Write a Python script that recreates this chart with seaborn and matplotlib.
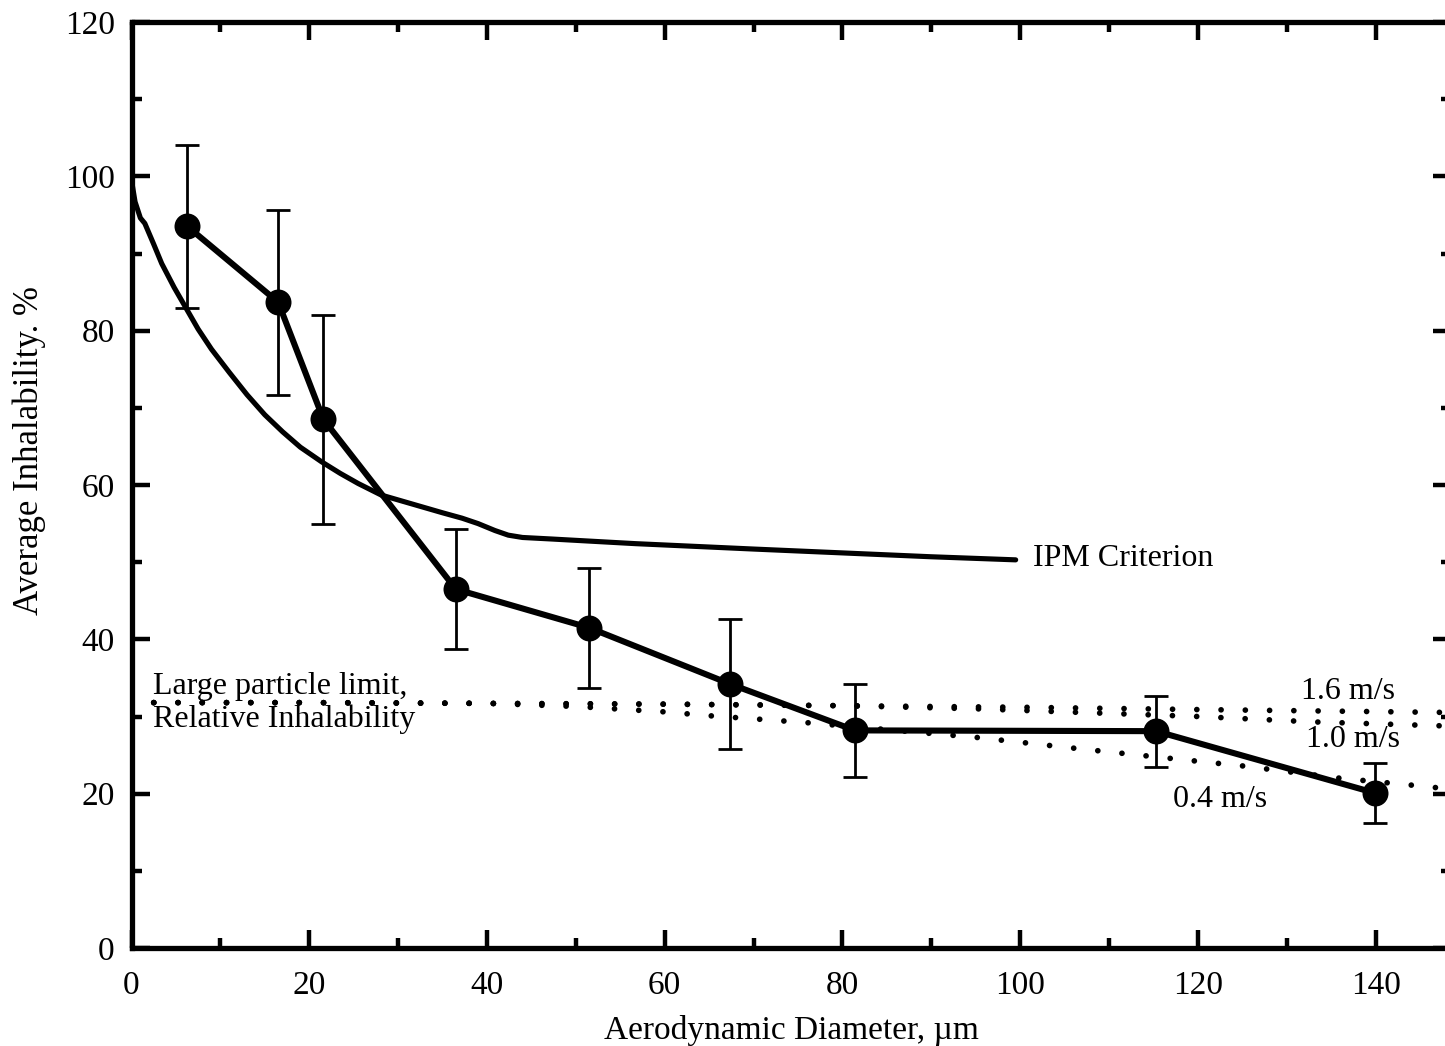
import matplotlib
matplotlib.use("Agg")
import matplotlib.pyplot as plt
import pandas as pd
import seaborn as sns
from matplotlib.ticker import MultipleLocator

# Measured average inhalability (mean +/- error) vs aerodynamic diameter
diameter_um = [6.3, 16.5, 21.6, 36.5, 51.5, 67.4, 81.4, 115.3, 139.9]
inhalability_pct = [93.5, 83.7, 68.5, 46.5, 41.5, 34.2, 28.2, 28.1, 20.1]
inhalability_err = [10.5, 12.0, 13.5, 7.8, 7.8, 8.4, 6.0, 4.6, 3.9]

# IPM criterion curve
ipm_d = [0.0, 0.4, 1.0, 1.5, 2.5, 3.4, 4.8, 6.2, 7.5, 9.0, 11.0, 13.0, 15.0,
         17.0, 19.0, 21.4, 23.5, 25.5, 28.1, 32.3, 35.0, 37.2, 39.0, 40.9,
         42.4, 44.0, 47.3, 56.7, 70.0, 80.0, 90.0, 99.5]
ipm_e = [99.5, 96.7, 94.6, 93.9, 91.2, 88.7, 85.6, 82.8, 80.2, 77.6, 74.6,
         71.7, 69.1, 66.9, 64.9, 63.0, 61.5, 60.2, 58.7, 57.3, 56.4, 55.7,
         55.0, 54.1, 53.5, 53.2, 53.0, 52.4, 51.7, 51.2, 50.7, 50.3]

# Large particle limits of relative inhalability at three wind speeds
lim16_d = [2.5, 20, 40, 60, 80, 100, 120, 150]
lim16_e = [31.8, 31.8, 31.7, 31.6, 31.4, 31.2, 30.9, 30.5]
lim10_d = [2.5, 20, 40, 60, 80, 95, 110, 120, 133, 150]
lim10_e = [31.8, 31.8, 31.7, 31.6, 31.4, 31.0, 30.4, 30.0, 29.3, 28.7]
lim04_d = [2.5, 20, 40, 50, 60, 65, 70, 76, 95, 106, 115, 125, 136, 145, 150]
lim04_e = [31.8, 31.8, 31.7, 31.3, 30.6, 30.1, 29.7, 29.2, 27.3, 25.9, 24.8,
           23.6, 22.0, 21.0, 20.4]

sns.set_style("ticks")
plt.rcParams["font.family"] = ["Liberation Serif", "DejaVu Serif"]

fig = plt.figure(figsize=(14.45, 10.46), dpi=100)
ax = fig.add_axes([131.5 / 1445, 98 / 1046, 1319.6 / 1445, 926 / 1046])

# dotted limit lines
for d, e in [(lim16_d, lim16_e), (lim10_d, lim10_e), (lim04_d, lim04_e)]:
    df = pd.DataFrame({"d": d, "e": e})
    sns.lineplot(data=df, x="d", y="e", ax=ax, color="black", lw=4.1,
                 estimator=None, sort=False, zorder=2)
    ln = ax.lines[-1]
    ln.set_linestyle((0, (0.01, 4.25)))
    ln.set_dash_capstyle("round")

# IPM criterion
ipm_df = pd.DataFrame({"d": ipm_d, "e": ipm_e})
sns.lineplot(data=ipm_df, x="d", y="e", ax=ax, color="black", lw=3.7,
             estimator=None, sort=False, zorder=3)
ax.lines[-1].set_solid_joinstyle("round")

# measured data: error bars, connecting line and markers
meas = pd.DataFrame({"d": diameter_um, "e": inhalability_pct, "err": inhalability_err})
ax.errorbar(meas["d"], meas["e"], yerr=meas["err"], fmt="none", ecolor="black",
            elinewidth=2.0, capsize=8.5, capthick=2.0, zorder=4)
sns.lineplot(data=meas, x="d", y="e", ax=ax, color="black", lw=4.4,
             estimator=None, sort=False, zorder=5)
sns.scatterplot(data=meas, x="d", y="e", ax=ax, color="black", s=350,
                edgecolor="black", linewidth=0, zorder=6)

# annotations
txt = dict(color="black", fontsize=23)
ax.text(101.5, 50.5, "IPM Criterion", ha="left", va="center", **txt)
ax.text(2.4, 31.7, "Large particle limit,\nRelative Inhalability", ha="left",
        va="center", linespacing=1.15, **txt)
ax.text(131.6, 33.2, "1.6 m/s", ha="left", va="center", **txt)
ax.text(132.2, 27.0, "1.0 m/s", ha="left", va="center", **txt)
ax.text(117.2, 19.2, "0.4 m/s", ha="left", va="center", **txt)

# axes
ax.set_xlim(0, 148.5)
ax.set_ylim(0, 120)
ax.xaxis.set_major_locator(MultipleLocator(20))
ax.xaxis.set_minor_locator(MultipleLocator(10))
ax.yaxis.set_major_locator(MultipleLocator(20))
ax.yaxis.set_minor_locator(MultipleLocator(10))
ax.tick_params(which="both", direction="in", top=True, right=True,
               width=3.2, colors="black", labelsize=24)
ax.tick_params(which="major", length=13)
ax.tick_params(which="minor", length=7)
ax.tick_params(axis="x", which="major", pad=16)
ax.tick_params(axis="y", which="major", pad=12)
for s in ax.spines.values():
    s.set_linewidth(3.8)
    s.set_color("black")

ax.set_xlabel("Aerodynamic Diameter, µm", fontsize=24, color="black")
ax.set_ylabel("Average Inhalability. %", fontsize=25, color="black")
ax.xaxis.set_label_coords(0.4998, -0.0886)
ax.xaxis.label.set_va("center")
ax.yaxis.set_label_coords(-0.0776, 0.537)
ax.yaxis.label.set_va("center")

fig.savefig("out.png", dpi=100, facecolor="white")
